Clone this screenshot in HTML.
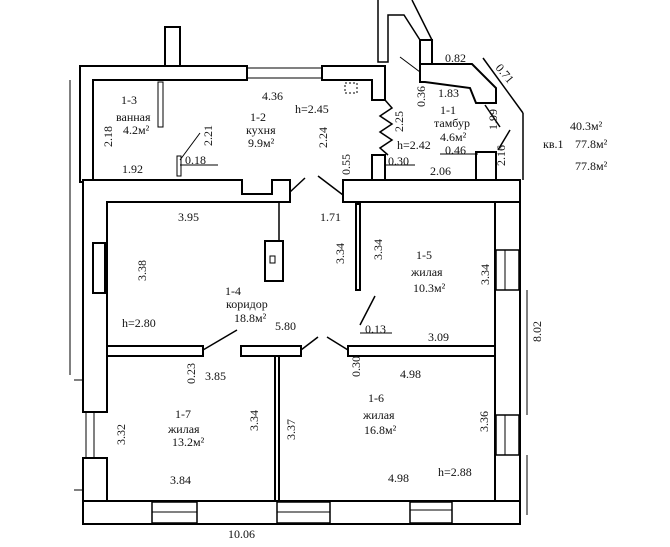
<!DOCTYPE html>
<html><head><meta charset="utf-8"><style>
html,body{margin:0;padding:0;background:#fff;}
svg{display:block}
text{font-family:"Liberation Serif",serif;font-size:12px;fill:#111}
</style></head><body>
<svg width="670" height="547" viewBox="0 0 670 547" xmlns="http://www.w3.org/2000/svg">
<g fill="#fff" stroke="#000" stroke-width="2">
<polygon points="80,66 247,66 247,80 93,80 93,182 80,182"/>
<polygon points="322,66 385,66 385,100 372,100 372,80 322,80"/>
<line x1="247" y1="68" x2="322" y2="68" stroke-width="1"/>
<line x1="247" y1="78" x2="322" y2="78" stroke-width="1"/>
<rect x="165" y="27" width="15" height="39"/>
<polygon points="83,180 242,180 242,194 272,194 272,180 290,180 290,202 107,202 107,412 83,412"/>
<polygon points="343,180 520,180 520,202 343,202"/>
<rect x="83" y="458" width="24" height="43"/>
<line x1="86" y1="412" x2="86" y2="458" stroke-width="1"/>
<line x1="94" y1="412" x2="94" y2="458" stroke-width="1"/>
<!-- bottom wall -->
<rect x="83" y="501" width="437" height="23"/>
<rect x="152" y="502" width="45" height="21" stroke-width="1.5"/>
<line x1="152" y1="512" x2="197" y2="512" stroke-width="1"/>
<rect x="277" y="502" width="53" height="21" stroke-width="1.5"/>
<line x1="277" y1="512" x2="330" y2="512" stroke-width="1"/>
<rect x="410" y="502" width="42" height="21" stroke-width="1.5"/>
<line x1="410" y1="510" x2="452" y2="510" stroke-width="1"/>
<!-- right wall -->
<rect x="495" y="202" width="25" height="299"/>
<rect x="496" y="250" width="23" height="40" stroke-width="1.5"/>
<line x1="505" y1="250" x2="505" y2="290" stroke-width="1"/>
<rect x="496" y="415" width="23" height="40" stroke-width="1.5"/>
<line x1="505" y1="415" x2="505" y2="455" stroke-width="1"/>
<!-- partitions -->
<rect x="107" y="346" width="96" height="10"/>
<rect x="241" y="346" width="60" height="10"/>
<rect x="348" y="346" width="147" height="10"/>
<rect x="275" y="356" width="4" height="145"/>
<rect x="356" y="204" width="4" height="86"/>
<rect x="265" y="241" width="18" height="40"/>
<line x1="279" y1="202" x2="279" y2="241" stroke-width="1.5"/>
<rect x="93" y="243" width="12" height="50"/>
<rect x="372" y="155" width="13" height="25"/>
<rect x="158" y="82" width="5" height="45" stroke-width="1"/>
<rect x="177" y="156" width="4" height="20" stroke-width="1"/>
<polygon points="420,64 472,64 496,88 496,103 476,103 470,88 425,82 420,82"/>
<rect x="476" y="152" width="20" height="28"/>
<rect x="420" y="40" width="12" height="24"/>
</g>
<g stroke="#000" fill="none" stroke-width="1.5">
<polyline points="385,100 392,108 380,116 392,124 380,132 392,140 380,148 388,155"/>
<polyline points="378,0 378,62 388,62 388,15 404,15 420,40 432,40 412,0"/>
<line x1="483" y1="58" x2="523" y2="113"/>
<line x1="523" y1="113" x2="523" y2="180"/>
<line x1="485" y1="105" x2="500" y2="127"/>
<line x1="498" y1="150" x2="510" y2="130"/>
<line x1="400" y1="57" x2="420" y2="72" stroke-width="1"/>
<line x1="290" y1="192" x2="305" y2="178"/>
<line x1="318" y1="176" x2="343" y2="195"/>
<line x1="203" y1="350" x2="237" y2="330"/>
<line x1="301" y1="350" x2="318" y2="337"/>
<line x1="327" y1="337" x2="348" y2="350"/>
<line x1="360" y1="325" x2="375" y2="296"/>
<line x1="180" y1="160" x2="200" y2="133" stroke-width="1"/>
<line x1="360" y1="333" x2="392" y2="333" stroke-width="1"/>
<line x1="180" y1="165" x2="218" y2="165" stroke-width="1"/>
<line x1="384" y1="165" x2="415" y2="165" stroke-width="1"/>
<line x1="440" y1="154" x2="478" y2="154" stroke-width="1"/>
<line x1="70" y1="80" x2="70" y2="375" stroke-width="1"/>
<line x1="74" y1="380" x2="83" y2="380" stroke-width="1"/>
<line x1="74" y1="490" x2="83" y2="490" stroke-width="1"/>
<line x1="527" y1="290" x2="527" y2="415" stroke-width="1"/>
<line x1="527" y1="455" x2="527" y2="515" stroke-width="1"/>
</g>
<rect x="345" y="83" width="12" height="10" fill="none" stroke="#000" stroke-dasharray="2,2"/>
<rect x="270" y="256" width="5" height="7" fill="none" stroke="#000"/>
<text x="121" y="104">1-3</text>
<text x="116" y="121">ванная</text>
<text x="123" y="134">4.2м²</text>
<text x="262" y="100">4.36</text>
<text x="295" y="113">h=2.45</text>
<text x="250" y="121">1-2</text>
<text x="246" y="134">кухня</text>
<text x="248" y="147">9.9м²</text>
<text x="122" y="173">1.92</text>
<text x="185" y="164">0.18</text>
<text x="438" y="97">1.83</text>
<text x="440" y="114">1-1</text>
<text x="434" y="127">тамбур</text>
<text x="440" y="141">4.6м²</text>
<text x="397" y="149">h=2.42</text>
<text x="388" y="165">0.30</text>
<text x="445" y="154">0.46</text>
<text x="430" y="175">2.06</text>
<text x="445" y="62">0.82</text>
<text x="570" y="130">40.3м²</text>
<text x="543" y="148">кв.1</text>
<text x="575" y="148">77.8м²</text>
<text x="575" y="170">77.8м²</text>
<text x="178" y="221">3.95</text>
<text x="320" y="221">1.71</text>
<text x="416" y="259">1-5</text>
<text x="411" y="276">жилая</text>
<text x="413" y="292">10.3м²</text>
<text x="225" y="295">1-4</text>
<text x="226" y="308">коридор</text>
<text x="234" y="322">18.8м²</text>
<text x="122" y="327">h=2.80</text>
<text x="275" y="330">5.80</text>
<text x="365" y="333">0.13</text>
<text x="428" y="341">3.09</text>
<text x="205" y="380">3.85</text>
<text x="400" y="378">4.98</text>
<text x="368" y="402">1-6</text>
<text x="363" y="419">жилая</text>
<text x="364" y="434">16.8м²</text>
<text x="175" y="418">1-7</text>
<text x="168" y="433">жилая</text>
<text x="172" y="446">13.2м²</text>
<text x="170" y="484">3.84</text>
<text x="388" y="482">4.98</text>
<text x="438" y="476">h=2.88</text>
<text x="228" y="538">10.06</text>
<g>
<text transform="translate(112,147) rotate(-90)">2.18</text>
<text transform="translate(212,146) rotate(-90)">2.21</text>
<text transform="translate(327,148) rotate(-90)">2.24</text>
<text transform="translate(403,132) rotate(-90)">2.25</text>
<text transform="translate(425,107) rotate(-90)">0.36</text>
<text transform="translate(497,130) rotate(-90)">1.99</text>
<text transform="translate(505,166) rotate(-90)">2.16</text>
<text transform="translate(350,175) rotate(-90)">0.55</text>
<text transform="translate(495,68) rotate(50)">0.71</text>
<text transform="translate(146,281) rotate(-90)">3.38</text>
<text transform="translate(344,264) rotate(-90)">3.34</text>
<text transform="translate(382,260) rotate(-90)">3.34</text>
<text transform="translate(489,285) rotate(-90)">3.34</text>
<text transform="translate(541,342) rotate(-90)">8.02</text>
<text transform="translate(195,384) rotate(-90)">0.23</text>
<text transform="translate(360,377) rotate(-90)">0.30</text>
<text transform="translate(258,431) rotate(-90)">3.34</text>
<text transform="translate(295,440) rotate(-90)">3.37</text>
<text transform="translate(125,445) rotate(-90)">3.32</text>
<text transform="translate(488,432) rotate(-90)">3.36</text>
</g>
</svg>
</body></html>
